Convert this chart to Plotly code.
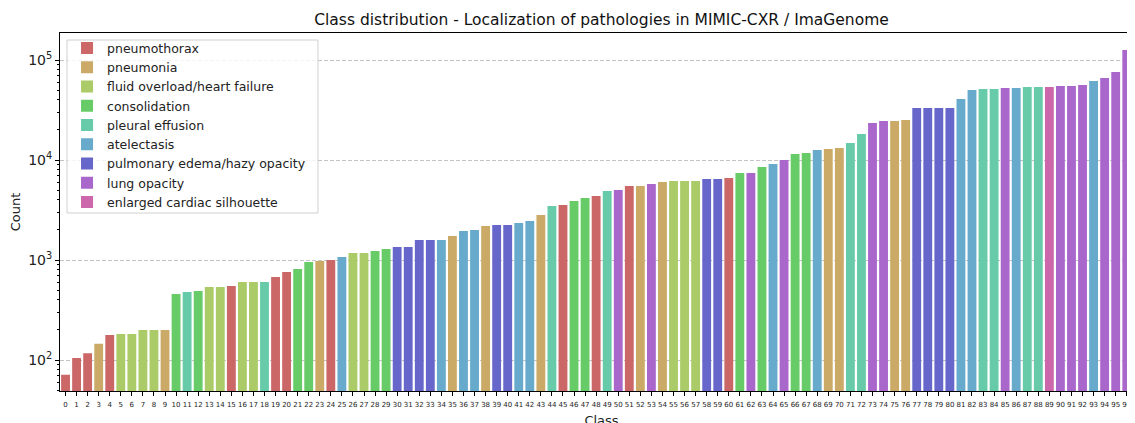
import plotly.graph_objects as go

categories = ["pneumothorax", "pneumonia", "fluid overload/heart failure", "consolidation",
              "pleural effusion", "atelectasis", "pulmonary edema/hazy opacity",
              "lung opacity", "enlarged cardiac silhouette"]
colors = ["#cb6767", "#cbaa67", "#aacb67", "#67cb67", "#67cbaa", "#67aacb", "#6767cb", "#aa67cb", "#cb67aa"]

class_ids = list(range(98))
counts = [71, 105, 117, 145, 178, 182, 182, 200, 200, 200,
          457, 479, 490, 537, 537, 550, 603, 603, 603, 676,
          759, 813, 955, 977, 1000, 1072, 1175, 1175, 1230, 1288,
          1349, 1349, 1585, 1585, 1585, 1738, 1950, 1995, 2188, 2239,
          2239, 2344, 2455, 2818, 3467, 3548, 3890, 4169, 4365, 4898,
          5012, 5495, 5495, 5754, 6026, 6166, 6166, 6166, 6457, 6457,
          6607, 7413, 7413, 8511, 9120, 10000, 11482, 11749, 12589, 12882,
          13183, 14791, 18197, 23442, 24547, 24547, 25119, 33113, 33113, 33113,
          33113, 40738, 50119, 51286, 51286, 52481, 52481, 53703, 53703, 53703,
          54954, 54954, 56234, 61660, 66069, 75858, 125893, 128825]
# category index per class (0..8, order as in `categories`)
class_cat = [0, 0, 0, 1, 0, 2, 2, 2, 2, 1,
             3, 4, 3, 2, 2, 0, 2, 2, 4, 0,
             0, 3, 3, 1, 0, 5, 2, 2, 3, 3,
             6, 6, 6, 6, 5, 1, 5, 5, 1, 6,
             6, 5, 5, 1, 4, 0, 3, 3, 0, 4,
             7, 0, 1, 7, 1, 2, 2, 2, 6, 6,
             0, 3, 7, 3, 5, 7, 3, 3, 5, 1,
             1, 4, 4, 7, 7, 1, 1, 6, 6, 6,
             6, 5, 5, 4, 4, 7, 5, 4, 4, 8,
             7, 7, 7, 5, 7, 7, 7, 7]

fig = go.Figure()
for ci, (name, col) in enumerate(zip(categories, colors)):
    xs = [x for x, c in zip(class_ids, class_cat) if c == ci]
    ys = [y for y, c in zip(counts, class_cat) if c == ci]
    fig.add_trace(go.Bar(x=xs, y=ys, name=name, marker=dict(color=col, line=dict(width=0)),
                         width=0.8))

# legend frame (matplotlib-style box)
fig.add_shape(type="rect", xref="paper", yref="paper",
              x0=0.0065, x1=0.2382, y0=0.4972, y1=0.9804,
              line=dict(color="#d0d0d0", width=1), fillcolor="rgba(255,255,255,0.8)",
              layer="above")

fig.update_layout(
    width=1135, height=423,
    margin=dict(l=52, r=0, t=25, b=40, autoexpand=False),
    barmode="overlay",
    plot_bgcolor="white", paper_bgcolor="white",
    font=dict(family="DejaVu Sans", color="#222222"),
    title=dict(text="Class distribution - Localization of pathologies in MIMIC-CXR / ImaGenome",
               x=0.5, xanchor="center", xref="paper", y=1 - 12 / 423, yref="container",
               yanchor="middle",
               font=dict(size=15.5, color="#111111"), automargin=False),
    legend=dict(x=0.0065, y=0.999, xanchor="left", yanchor="top",
                bgcolor="rgba(0,0,0,0)", borderwidth=0,
                font=dict(size=12.5, color="#222222"), traceorder="normal",
                tracegroupgap=0, itemwidth=30),
    showlegend=True,
)
fig.update_xaxes(
    range=[-0.5, 97.47], tickmode="array", tickvals=class_ids,
    ticktext=[str(c) for c in class_ids], tickangle=0,
    tickfont=dict(size=7, color="#222222"),
    ticks="outside", ticklen=3.5, tickcolor="black", ticklabelstandoff=3,
    ticklabeloverflow="allow",
    showline=True, linecolor="black", linewidth=1, mirror=True,
    showgrid=False, zeroline=False, automargin=False,
    title=dict(text="Class", font=dict(size=13, color="#222222"), standoff=7),
)
fig.update_yaxes(
    type="log", range=[1.69, 5.27],
    tickvals=[100, 1000, 10000, 100000],
    ticktext=["10<sup>2</sup>", "10<sup>3</sup>", "10<sup>4</sup>", "10<sup>5</sup>"],
    tickfont=dict(size=14, color="#222222"),
    ticks="outside", ticklen=4, tickcolor="black",
    minor=dict(ticks="outside", ticklen=2, tickcolor="black", showgrid=False,
               tickvals=[v * m for v in [10, 100, 1000, 10000, 100000] for m in range(2, 10)]),
    showline=True, linecolor="black", linewidth=1,
    showgrid=True, gridcolor="#c4c4c4", griddash="4px,2px", gridwidth=0.8,
    zeroline=False, automargin=False,
    title=dict(text="Count", font=dict(size=13, color="#222222"), standoff=4),
)

fig.write_html("out.html")
